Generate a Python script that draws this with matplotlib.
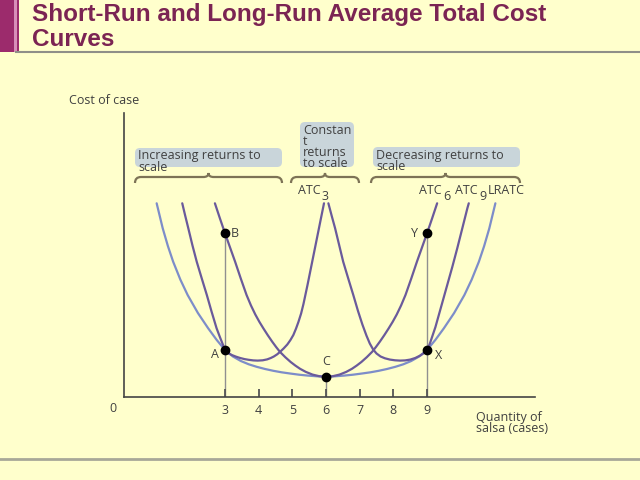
import matplotlib.pyplot as plt
from matplotlib.path import Path
from matplotlib.patches import PathPatch, FancyBboxPatch

# Values (quantity in cases, cost in arbitrary units)
lratc_q = [0.97, 1.15, 1.305, 1.46, 1.675, 1.89, 2.195, 2.5, 2.75, 3.0, 3.235, 3.47, 3.705, 3.94,
           4.19, 4.435, 4.68, 4.93, 5.2, 5.465, 5.73, 6.0,
           6.27, 6.535, 6.8, 7.07, 7.32, 7.565, 7.81, 8.06, 8.295, 8.53, 8.765, 9.0, 9.25, 9.5,
           9.805, 10.11, 10.325, 10.54, 10.695, 10.85, 11.03]
lratc_c = [19.37, 16.87, 15.08, 13.53, 11.73, 10.2, 8.4, 6.87, 5.72, 4.7, 4.05, 3.6, 3.27, 3.02,
           2.8, 2.62, 2.47, 2.35, 2.23, 2.14, 2.07, 2.03,
           2.07, 2.14, 2.23, 2.35, 2.47, 2.62, 2.8, 3.02, 3.27, 3.6, 4.05, 4.7, 5.72, 6.87,
           8.4, 10.2, 11.73, 13.53, 15.08, 16.87, 19.37]

atc3_q = [1.73, 1.82, 1.91, 2.03, 2.16, 2.31, 2.46, 2.6, 2.75, 2.85, 2.93, 3.0, 3.08, 3.2, 3.33,
          3.45, 3.58, 3.7, 3.84, 3.97, 4.12, 4.25, 4.36, 4.45, 4.55, 4.63, 4.74, 4.85, 4.94, 5.03,
          5.11, 5.18, 5.26, 5.33, 5.39, 5.45, 5.51, 5.57, 5.67, 5.77, 5.85, 5.94]
atc3_c = [19.37, 18.1, 16.87, 15.2, 13.53, 11.85, 10.2, 8.55, 6.87, 5.98, 5.3, 4.72, 4.42, 4.2, 4.03,
          3.9, 3.79, 3.72, 3.66, 3.64, 3.67, 3.76, 3.9, 4.05, 4.27, 4.5, 4.85, 5.25, 5.68, 6.2,
          6.85, 7.5, 8.35, 9.3, 10.25, 11.2, 12.2, 13.2, 14.87, 16.54, 17.88, 19.37]

atc6_q = [2.70, 2.85, 3.0, 3.15, 3.3, 3.47, 3.64, 3.77, 3.9, 4.02, 4.14, 4.27, 4.4, 4.52, 4.63,
          4.79, 4.95, 5.09, 5.23, 5.4, 5.6, 5.8, 6.0,
          6.2, 6.4, 6.6, 6.77, 6.91, 7.05, 7.21, 7.37, 7.48, 7.6, 7.73, 7.86, 7.98, 8.1, 8.23,
          8.36, 8.53, 8.7, 8.85, 9.0, 9.15, 9.3]
atc6_c = [19.37, 17.85, 16.37, 14.95, 13.53, 11.83, 10.2, 9.16, 8.25, 7.52, 6.86, 6.18, 5.54, 4.99,
          4.52, 3.98, 3.5, 3.14, 2.82, 2.51, 2.24, 2.08, 2.03,
          2.08, 2.24, 2.51, 2.82, 3.14, 3.5, 3.98, 4.52, 4.99, 5.54, 6.18, 6.86, 7.52, 8.25, 9.16,
          10.2, 11.83, 13.53, 14.95, 16.37, 17.85, 19.37]

atc9_q = [6.07, 6.17, 6.27, 6.39, 6.51, 6.66, 6.81, 6.95, 7.08, 7.2, 7.3, 7.4, 7.5, 7.62, 7.75,
          7.9, 8.05, 8.2, 8.35, 8.5, 8.65, 8.8, 8.9, 9.0, 9.05, 9.1, 9.17, 9.25, 9.35, 9.45, 9.6,
          9.75, 9.9, 10.05, 10.2, 10.24]
atc9_c = [19.37, 18.1, 16.87, 15.2, 13.53, 11.85, 10.2, 8.6, 7.25, 6.15, 5.35, 4.75, 4.35, 4.05,
          3.87, 3.74, 3.67, 3.64, 3.66, 3.74, 3.9, 4.15, 4.38, 4.7, 5.05, 5.5, 6.2, 7.0, 8.2, 9.4,
          11.2, 13.0, 14.9, 16.9, 18.9, 19.37]

point_q = [3, 3, 6, 9, 9]
point_c = [4.7, 16.37, 2.03, 4.7, 16.37]
point_lbl = ['A', 'B', 'C', 'X', 'Y']
tick_q = [3, 4, 5, 6, 7, 8, 9]

BG = '#ffffcc'
TXT = '#404040'
ATC_COL = '#6a5a9b'
LR_COL = '#7d8dc9'
BOX_COL = '#c9d5da'
BRACE_COL = '#7d7356'
FS = 9

plt.rcParams['font.family'] = ['Open Sans', 'DejaVu Sans']

fig = plt.figure(figsize=(6.4, 4.8), dpi=100, facecolor=BG)

# overlay in pixel units for the slide decorations
bg = fig.add_axes([0, 0, 1, 1])
bg.set_xlim(0, 640)
bg.set_ylim(480, 0)
bg.axis('off')
bg.patch.set_alpha(0)

bg.fill_between([0, 14], 0, 52, color='#9c2b6c', lw=0)
bg.fill_between([14, 16.5], 0, 52, color='#d88fb8', lw=0)
bg.fill_between([16.5, 19], 0, 52, color='#9c2b6c', lw=0)
bg.plot([16, 640], [52, 52], color='#8f8f88', lw=1.5)
bg.plot([0, 640], [458.5, 458.5], color='#a8a898', lw=2)

bg.text(32, 20.5, 'Short-Run and Long-Run Average Total Cost', family='Liberation Sans',
        fontsize=17.5, fontweight='bold', color='#7b2453', va='baseline')
bg.text(32, 45.5, 'Curves', family='Liberation Sans',
        fontsize=17.5, fontweight='bold', color='#7b2453', va='baseline')


def brace(x0, x1, y):
    xm = (x0 + x1) / 2
    verts = [(x0, y + 6), (x0, y), (x0 + 6, y), (xm - 5, y), (xm, y), (xm, y - 4),
             (xm, y), (xm + 5, y), (x1 - 6, y), (x1, y), (x1, y + 6)]
    codes = [Path.MOVETO, Path.CURVE3, Path.CURVE3, Path.LINETO, Path.CURVE3, Path.CURVE3,
             Path.CURVE3, Path.CURVE3, Path.LINETO, Path.CURVE3, Path.CURVE3]
    bg.add_patch(PathPatch(Path(verts, codes), fc='none', ec=BRACE_COL, lw=1.6))


def box(x0, y0, x1, y1, text):
    bg.add_patch(FancyBboxPatch((x0, y0), x1 - x0, y1 - y0, boxstyle='round,pad=0,rounding_size=5',
                                fc=BOX_COL, ec='none'))
    bg.text(x0 + 3, y0 + 1.5, text, fontsize=FS, color=TXT, va='top', linespacing=0.82)


box(135, 148, 282, 167, 'Increasing returns to\nscale')
box(300, 122, 354, 167, 'Constan\nt\nreturns\nto scale')
box(373, 147, 520, 167, 'Decreasing returns to\nscale')
brace(135, 282, 177)
brace(291, 359, 177)
brace(371, 520, 177)

for x, sub in [(298, '3'), (419, '6'), (455, '9')]:
    bg.text(x, 190, 'ATC', fontsize=FS, color=TXT, va='center')
    bg.text(x + 24, 197, sub, fontsize=FS, color=TXT, va='center')
bg.text(488, 190, 'LRATC', fontsize=FS, color=TXT, va='center')

bg.text(69, 101, 'Cost of case', fontsize=FS, color=TXT, va='center')
bg.text(476, 411, 'Quantity of\nsalsa (cases)', fontsize=FS, color=TXT, va='top', linespacing=0.85)
bg.text(113, 408, '0', fontsize=FS, color=TXT, va='center', ha='center')

# chart
ax = fig.add_axes([124 / 640, 83 / 480, 411 / 640, 284 / 480])
ax.patch.set_alpha(0)
ax.set_xlim(0, 411 / 33.67)
ax.set_ylim(0, 28.4)
for s in ['top', 'right']:
    ax.spines[s].set_visible(False)
for s in ['left', 'bottom']:
    ax.spines[s].set_color('#444444')
    ax.spines[s].set_linewidth(1.2)

ax.set_xticks(tick_q)
ax.set_xticklabels([str(t) for t in tick_q], fontsize=FS, color=TXT)
ax.tick_params(axis='x', direction='in', length=6, width=1.3, color='#555555', pad=5)
ax.set_yticks([])

for q, c in [(3, 16.37), (9, 16.37), (6, 2.03)]:
    ax.plot([q, q], [0, c], color='#909090', lw=1, zorder=1)

style = dict(lw=1.6, solid_joinstyle='round', solid_capstyle='round')
ax.plot(lratc_q, lratc_c, color=LR_COL, zorder=2, **style)
ax.plot(atc3_q, atc3_c, color=ATC_COL, zorder=3, **style)
ax.plot(atc6_q, atc6_c, color=ATC_COL, zorder=3, **style)
ax.plot(atc9_q, atc9_c, color=ATC_COL, zorder=3, **style)

ax.plot(point_q, point_c, 'o', color='black', ms=6, zorder=5)
offsets = {'A': (-7, -3), 'B': (7, 0), 'C': (0, 11), 'X': (8, -4), 'Y': (-9, 0)}
for q, c, lbl in zip(point_q, point_c, point_lbl):
    dx, dy = offsets[lbl]
    ax.annotate(lbl, (q, c), xytext=(dx, dy), textcoords='offset points', fontsize=FS,
                color=TXT, ha='center', va='center')

fig.savefig('out.png', dpi=100, facecolor=BG)
